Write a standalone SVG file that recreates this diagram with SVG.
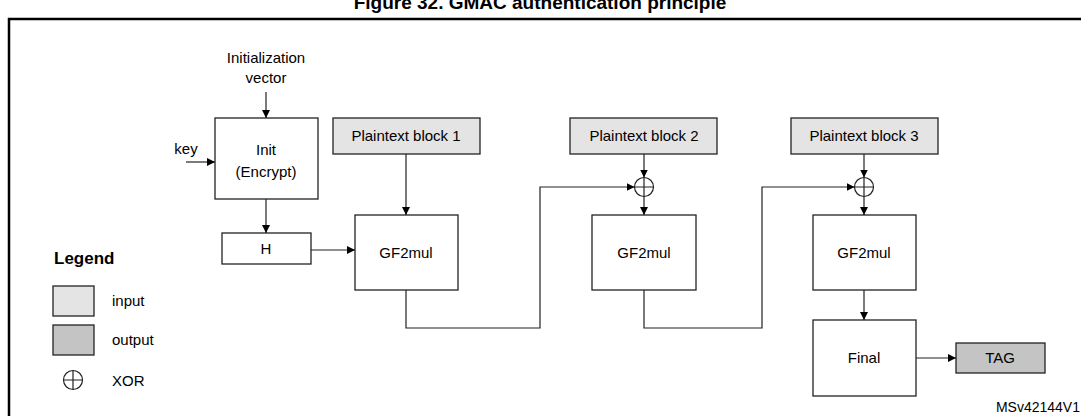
<svg xmlns="http://www.w3.org/2000/svg" width="1081" height="416" viewBox="0 0 1081 416">
<style>
text{font-family:"Liberation Sans",Arial,sans-serif;font-size:15px;fill:#000}
.b{fill:#fff;stroke:#222;stroke-width:1.3}
.in{fill:#e4e4e4;stroke:#222;stroke-width:1.3}
.out{fill:#c4c4c4;stroke:#222;stroke-width:1.3}
.c{fill:none;stroke:#222;stroke-width:1.2}
.m{text-anchor:middle}
</style>
<defs><marker id="a" viewBox="0 0 10 10" refX="10" refY="5" markerWidth="8" markerHeight="8" markerUnits="userSpaceOnUse" orient="auto"><path d="M0,0L10,5L0,10z" fill="#000"/></marker></defs>
<rect width="1081" height="416" fill="#fff"/>
<text x="540" y="9" class="m" style="font-weight:bold;font-size:19px">Figure 32. GMAC authentication principle</text>
<path d="M9,416V19H1081" fill="none" stroke="#000" stroke-width="2.5"/>
<text x="266" y="63" class="m">Initialization</text>
<text x="266" y="83" class="m">vector</text>
<text x="186" y="154" class="m">key</text>
<g id="init"><rect class="b" x="215" y="118" width="103" height="81"/><text x="266" y="155" class="m">Init</text><text x="266" y="177" class="m">(Encrypt)</text></g>
<g id="h"><rect class="b" x="222" y="233" width="89" height="31"/><text x="266" y="254" class="m">H</text></g>
<g id="pb1"><rect class="in" x="333" y="118" width="147" height="36"/><text x="406" y="141" class="m">Plaintext block 1</text></g>
<g id="pb2"><rect class="in" x="570" y="118" width="147" height="36"/><text x="644" y="141" class="m">Plaintext block 2</text></g>
<g id="pb3"><rect class="in" x="791" y="118" width="147" height="36"/><text x="864" y="141" class="m">Plaintext block 3</text></g>
<g id="gf1"><rect class="b" x="355" y="215" width="103" height="75"/><text x="406" y="258" class="m">GF2mul</text></g>
<g id="gf2"><rect class="b" x="592" y="215" width="104" height="75"/><text x="644" y="258" class="m">GF2mul</text></g>
<g id="gf3"><rect class="b" x="813" y="215" width="103" height="75"/><text x="864" y="258" class="m">GF2mul</text></g>
<g id="final"><rect class="b" x="813" y="320" width="103" height="76"/><text x="864" y="363" class="m">Final</text></g>
<g id="tag"><rect class="out" x="956" y="343" width="89" height="30"/><text x="1000" y="363" class="m">TAG</text></g>
<g id="xor2"><circle class="c" cx="644" cy="187" r="9.5"/><path class="c" d="M634.5,187H653.5M644,177.5V196.5"/></g>
<g id="xor3"><circle class="c" cx="864" cy="187" r="9.5"/><path class="c" d="M854.5,187H873.5M864,177.5V196.5"/></g>
<g id="connectors">
<path class="c" d="M266,92V118" marker-end="url(#a)"/>
<path class="c" d="M186,162H215" marker-end="url(#a)"/>
<path class="c" d="M266,199V233" marker-end="url(#a)"/>
<path class="c" d="M311,250H355" marker-end="url(#a)"/>
<path class="c" d="M406,154V215" marker-end="url(#a)"/>
<path class="c" d="M644,154V177.5" marker-end="url(#a)"/>
<path class="c" d="M644,196.5V215" marker-end="url(#a)"/>
<path class="c" d="M864,154V177.5" marker-end="url(#a)"/>
<path class="c" d="M864,196.5V215" marker-end="url(#a)"/>
<path class="c" d="M406,290V328H540V187H634.5" marker-end="url(#a)"/>
<path class="c" d="M644,290V328H762V187H854.5" marker-end="url(#a)"/>
<path class="c" d="M864,290V320" marker-end="url(#a)"/>
<path class="c" d="M916,358H956" marker-end="url(#a)"/>
</g>
<g id="legend">
<text x="54" y="264" style="font-weight:bold;font-size:17px">Legend</text>
<rect class="in" x="53" y="286" width="41" height="30"/><text x="112" y="306">input</text>
<rect class="out" x="53" y="325" width="41" height="30"/><text x="112" y="345">output</text>
<circle class="c" cx="73" cy="380" r="9.5"/><path class="c" d="M63.5,380H82.5M73,370.5V389.5"/><text x="112" y="386">XOR</text>
</g>
<text x="1080" y="412" style="text-anchor:end;font-size:14px">MSv42144V1</text>
</svg>
